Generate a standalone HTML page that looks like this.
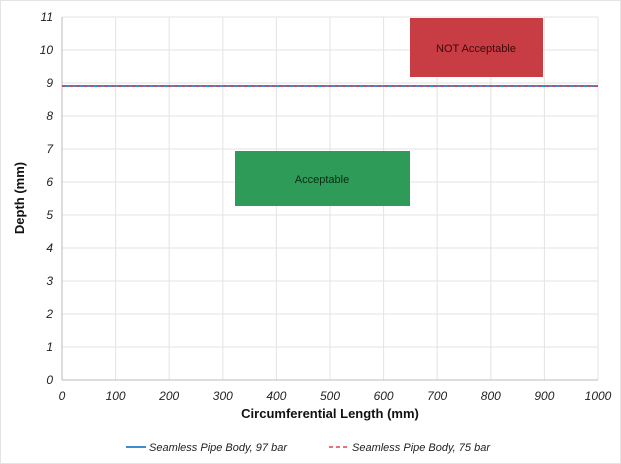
<!DOCTYPE html>
<html><head><style>
body{margin:0;background:#fff;}
svg{display:block;font-family:"Liberation Sans",sans-serif;}
</style></head><body>
<svg width="621" height="464" viewBox="0 0 621 464">
<rect x="0.5" y="0.5" width="620" height="463" fill="#fff" stroke="#e4e4e4"/>
<g stroke="#e3e3e3" stroke-width="1">
<line x1="115.6" y1="17" x2="115.6" y2="380"/><line x1="169.2" y1="17" x2="169.2" y2="380"/><line x1="222.8" y1="17" x2="222.8" y2="380"/><line x1="276.4" y1="17" x2="276.4" y2="380"/><line x1="330" y1="17" x2="330" y2="380"/><line x1="383.6" y1="17" x2="383.6" y2="380"/><line x1="437.2" y1="17" x2="437.2" y2="380"/><line x1="490.8" y1="17" x2="490.8" y2="380"/><line x1="544.4" y1="17" x2="544.4" y2="380"/><line x1="598" y1="17" x2="598" y2="380"/>
<line x1="62" y1="17" x2="598" y2="17"/><line x1="62" y1="50" x2="598" y2="50"/><line x1="62" y1="83" x2="598" y2="83"/><line x1="62" y1="116" x2="598" y2="116"/><line x1="62" y1="149" x2="598" y2="149"/><line x1="62" y1="182" x2="598" y2="182"/><line x1="62" y1="215" x2="598" y2="215"/><line x1="62" y1="248" x2="598" y2="248"/><line x1="62" y1="281" x2="598" y2="281"/><line x1="62" y1="314" x2="598" y2="314"/><line x1="62" y1="347" x2="598" y2="347"/>
</g>
<line x1="62" y1="17" x2="62" y2="380" stroke="#bbb"/>
<line x1="62" y1="380" x2="598" y2="380" stroke="#bbb"/>
<rect x="410" y="18" width="133" height="59" fill="#c83c44"/>
<text x="476" y="52" font-size="11" fill="#3a0a0a" text-anchor="middle">NOT Acceptable</text>
<rect x="235" y="151" width="175" height="55" fill="#2e9c58"/>
<text x="322" y="183" font-size="11" fill="#0a2a14" text-anchor="middle">Acceptable</text>
<line x1="62" y1="86" x2="598" y2="86" stroke="#3b8fd0" stroke-width="2"/>
<line x1="62" y1="86" x2="598" y2="86" stroke="#e0404a" stroke-width="1.5" stroke-dasharray="4,3"/>
<g font-size="12" font-style="italic" fill="#222" text-anchor="end">
<text x="53" y="384">0</text><text x="53" y="351">1</text><text x="53" y="318">2</text><text x="53" y="285">3</text><text x="53" y="252">4</text><text x="53" y="219">5</text><text x="53" y="186">6</text><text x="53" y="153">7</text><text x="53" y="120">8</text><text x="53" y="87">9</text><text x="53" y="54">10</text><text x="53" y="21">11</text>
</g>
<g font-size="12" font-style="italic" fill="#222" text-anchor="middle">
<text x="62" y="400">0</text><text x="115.6" y="400">100</text><text x="169.2" y="400">200</text><text x="222.8" y="400">300</text><text x="276.4" y="400">400</text><text x="330" y="400">500</text><text x="383.6" y="400">600</text><text x="437.2" y="400">700</text><text x="490.8" y="400">800</text><text x="544.4" y="400">900</text><text x="598" y="400">1000</text>
</g>
<text x="330" y="418" font-size="13" font-weight="bold" text-anchor="middle" fill="#111">Circumferential Length (mm)</text>
<text transform="translate(24,198) rotate(-90)" font-size="13" font-weight="bold" text-anchor="middle" fill="#111">Depth (mm)</text>
<line x1="126" y1="447" x2="146" y2="447" stroke="#3b8fd0" stroke-width="2"/>
<text x="149" y="451" font-size="11" font-style="italic" fill="#222">Seamless Pipe Body, 97 bar</text>
<line x1="329" y1="447" x2="349" y2="447" stroke="#e0404a" stroke-width="1.5" stroke-dasharray="4,3"/>
<text x="352" y="451" font-size="11" font-style="italic" fill="#222">Seamless Pipe Body, 75 bar</text>
</svg>
</body></html>
